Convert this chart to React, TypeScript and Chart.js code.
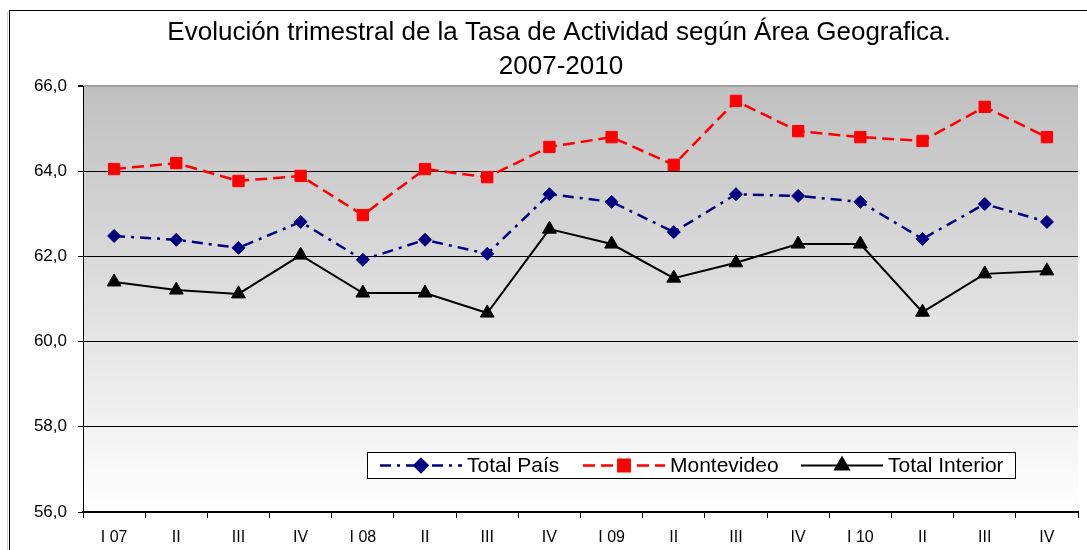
import React, { useEffect, useRef } from 'react';
import { Chart, registerables } from 'chart.js';
import { drawPoint } from 'chart.js/helpers';

Chart.register(...registerables);

const categories = ['I 07', 'II', 'III', 'IV', 'I 08', 'II', 'III', 'IV', 'I 09', 'II', 'III', 'IV', 'I 10', 'II', 'III', 'IV'];
const totalPais = [62.48, 62.39, 62.2, 62.81, 61.92, 62.39, 62.06, 63.46, 63.28, 62.57, 63.46, 63.42, 63.28, 62.41, 63.23, 62.81];
const montevideo = [64.05, 64.19, 63.77, 63.89, 62.97, 64.05, 63.86, 64.57, 64.8, 64.15, 65.65, 64.94, 64.8, 64.71, 65.51, 64.8];
const totalInterior = [61.4, 61.21, 61.12, 62.03, 61.14, 61.14, 60.67, 62.64, 62.29, 61.49, 61.85, 62.29, 62.29, 60.69, 61.59, 61.66];
const seriesNames = ['Total País', 'Montevideo', 'Total Interior'];
const yMin = 56;
const yMax = 66;
const yStep = 2;
const titleLines = ['Evolución trimestral de la Tasa de Actividad según Área Geografica.', '2007-2010'];

const FONT = '"Liberation Sans", Arial, sans-serif';

const backgroundPlugin = {
  id: 'bgPlugin',
  beforeDraw(chart: any) {
    const { ctx, chartArea } = chart;
    ctx.save();
    ctx.fillStyle = '#ffffff';
    ctx.fillRect(0, 0, chart.width, chart.height);
    const g = ctx.createLinearGradient(0, chartArea.top, 0, chartArea.bottom);
    g.addColorStop(0, '#c0c0c0');
    g.addColorStop(1, '#ffffff');
    ctx.fillStyle = g;
    ctx.fillRect(chartArea.left, chartArea.top, chartArea.right - chartArea.left, chartArea.bottom - chartArea.top);
    // outer border
    ctx.strokeStyle = '#d0d0d0';
    ctx.lineWidth = 1;
    ctx.beginPath();
    ctx.moveTo(7.5, 12);
    ctx.lineTo(7.5, chart.height);
    ctx.stroke();
    ctx.strokeStyle = '#000000';
    ctx.strokeRect(9.5, 10.5, 3000, 3000);
    // title
    ctx.fillStyle = '#000000';
    ctx.font = `26px ${FONT}`;
    ctx.textAlign = 'center';
    ctx.textBaseline = 'middle';
    ctx.fillText(titleLines[0], 559, 33);
    ctx.fillText(titleLines[1], 561, 67);
    ctx.restore();
  },
};

const legendPlugin = {
  id: 'boxLegend',
  afterDraw(chart: any) {
    const { ctx } = chart;
    ctx.save();
    ctx.fillStyle = '#ffffff';
    ctx.fillRect(367, 452, 648, 26);
    ctx.strokeStyle = '#000000';
    ctx.lineWidth = 1;
    ctx.strokeRect(367.5, 452.5, 648, 26);
    const starts = [380, 583, 801];
    const yc = 465.5;
    chart.data.datasets.forEach((ds: any, i: number) => {
      const x0 = starts[i];
      ctx.save();
      ctx.strokeStyle = ds.borderColor;
      ctx.lineWidth = ds.borderWidth;
      ctx.setLineDash(ds.borderDash || []);
      ctx.beginPath();
      ctx.moveTo(x0, yc);
      ctx.lineTo(x0 + 82, yc);
      ctx.stroke();
      ctx.setLineDash([]);
      ctx.fillStyle = ds.pointBackgroundColor;
      ctx.strokeStyle = ds.pointBorderColor;
      drawPoint(ctx, { pointStyle: ds.pointStyle, radius: ds.pointRadius, rotation: 0, borderWidth: 1 }, x0 + 41, yc);
      ctx.restore();
      ctx.fillStyle = '#000000';
      ctx.font = `21px ${FONT}`;
      ctx.textAlign = 'left';
      ctx.textBaseline = 'middle';
      ctx.fillText(ds.label, x0 + 87, yc + 1);
    });
    ctx.restore();
  },
};

export default function App() {
  const canvasRef = useRef<HTMLCanvasElement | null>(null);

  useEffect(() => {
    document.body.style.margin = '0';
    const canvas = canvasRef.current;
    if (!canvas) return;
    const chart = new Chart(canvas, {
      type: 'line',
      data: {
        labels: categories,
        datasets: [
          {
            label: seriesNames[0],
            data: totalPais,
            borderColor: '#000080',
            backgroundColor: '#000080',
            pointBackgroundColor: '#000080',
            pointBorderColor: '#000080',
            borderWidth: 2.5,
            borderDash: [11, 6, 3, 6],
            pointStyle: 'rectRot',
            pointRadius: 6.5,
            pointBorderWidth: 1,
            tension: 0,
          },
          {
            label: seriesNames[1],
            data: montevideo,
            borderColor: '#ff0000',
            backgroundColor: '#ff0000',
            pointBackgroundColor: '#ff0000',
            pointBorderColor: '#ff0000',
            borderWidth: 2.5,
            borderDash: [12, 6],
            pointStyle: 'rect',
            pointRadius: 8,
            pointBorderWidth: 1,
            tension: 0,
          },
          {
            label: seriesNames[2],
            data: totalInterior,
            borderColor: '#000000',
            backgroundColor: '#000000',
            pointBackgroundColor: '#000000',
            pointBorderColor: '#000000',
            borderWidth: 2,
            borderDash: [],
            pointStyle: 'triangle',
            pointRadius: 8,
            pointBorderWidth: 1,
            tension: 0,
          },
        ],
      },
      options: {
        responsive: false,
        animation: false,
        layout: { padding: { top: 86, left: 0, right: 0, bottom: 0 } },
        plugins: {
          legend: { display: false },
          title: { display: false },
          tooltip: { enabled: false },
        },
        scales: {
          x: {
            type: 'category',
            offset: true,
            afterFit: (scale: any) => { scale.height = 38; },
            grid: {
              display: true,
              drawOnChartArea: false,
              drawTicks: true,
              tickLength: 6,
              offset: true,
              color: '#000000',
              tickColor: '#000000',
            },
            border: { display: true, color: '#000000', width: 2 },
            ticks: {
              color: '#000000',
              font: { family: FONT, size: 16 },
              padding: 10,
              maxRotation: 0,
              autoSkip: false,
            },
          },
          y: {
            min: yMin,
            max: yMax,
            afterFit: (scale: any) => { scale.width = 83; },
            grid: {
              color: (c: any) => (c.tick && c.tick.value === yMax ? '#a0a0a0' : '#000000'),
              lineWidth: (c: any) => (c.tick && c.tick.value === yMax ? 2 : 1),
              tickColor: '#000000',
              tickLength: 5,
              drawTicks: true,
            },
            border: { display: true, color: '#000000', width: 1 },
            ticks: {
              stepSize: yStep,
              color: '#000000',
              font: { family: FONT, size: 17 },
              padding: 11,
              callback: (v: any) => Number(v).toFixed(1).replace('.', ','),
            },
          },
        },
      },
      plugins: [backgroundPlugin, legendPlugin],
    });
    return () => chart.destroy();
  }, []);

  return (
    <canvas
      ref={canvasRef}
      width={1087}
      height={550}
      style={{ position: 'absolute', left: 0, top: 0, display: 'block' }}
    />
  );
}
